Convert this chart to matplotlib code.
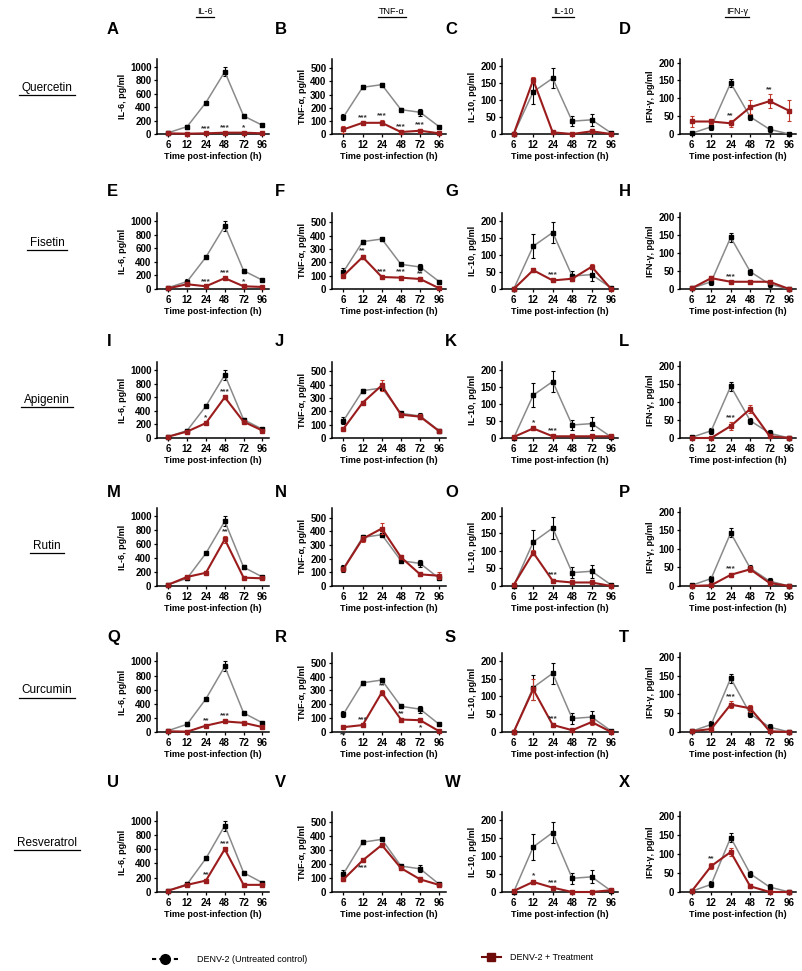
import matplotlib
matplotlib.use("Agg")
import matplotlib.pyplot as plt
from matplotlib.lines import Line2D

plt.rcParams['font.family'] = ['Liberation Sans', 'DejaVu Sans']

W, H = 803, 971

# ---- data -------------------------------------------------------------
times = ['6', '12', '24', '48', '72', '96']
cytokines = ['IL-6', 'TNF-α', 'IL-10', 'IFN-γ']
treatments = ['Quercetin', 'Fisetin', 'Apigenin', 'Rutin', 'Curcumin', 'Resveratrol']
letters = 'ABCDEFGHIJKLMNOPQRSTUVWX'

# untreated control (same in every row)
ctrl_il6 = [20, 110, 470, 930, 270, 130]
ctrl_il6_err = [10, 30, 15, 70, 30, 15]
ctrl_tnf = [130, 355, 375, 185, 165, 55]
ctrl_tnf_err = [25, 15, 10, 10, 25, 5]
ctrl_il10 = [0, 125, 165, 38, 42, 3]
ctrl_il10_err = [0, 35, 30, 15, 18, 2]
ctrl_ifn = [2, 20, 143, 48, 13, 0]
ctrl_ifn_err = [2, 8, 12, 8, 8, 0]

# treated, rows: Quercetin, Fisetin, Apigenin, Rutin, Curcumin, Resveratrol
il6 = [[10, 5, 10, 20, 20, 10],
       [10, 70, 40, 160, 40, 30],
       [20, 95, 220, 600, 240, 110],
       [20, 130, 190, 670, 120, 110],
       [10, 5, 90, 150, 130, 70],
       [20, 100, 160, 600, 100, 100]]
il6_err = [[5, 5, 5, 10, 10, 5],
           [5, 10, 10, 20, 10, 5],
           [5, 10, 20, 20, 20, 10],
           [5, 15, 20, 50, 10, 10],
           [5, 5, 10, 15, 10, 10],
           [5, 10, 15, 20, 10, 10]]
il6_stars = [['', '', '***', '***', '*', ''],
             ['', '', '***', '***', '*', ''],
             ['', '', '*', '***', '', ''],
             ['', '', '', '**', '', ''],
             ['', '', '**', '***', '', ''],
             ['', '', '**', '***', '', '']]

tnf = [[35, 85, 85, 15, 25, 5],
       [100, 240, 90, 85, 75, 5],
       [70, 265, 395, 175, 160, 50],
       [125, 345, 420, 210, 85, 75],
       [35, 50, 285, 90, 85, 5],
       [90, 225, 335, 170, 90, 50]]
tnf_err = [[25, 10, 20, 8, 15, 3],
           [15, 15, 10, 10, 10, 3],
           [10, 10, 40, 15, 20, 5],
           [15, 20, 40, 15, 10, 25],
           [10, 8, 20, 10, 10, 3],
           [10, 10, 10, 10, 20, 5]]
tnf_stars = [['', '***', '***', '***', '***', ''],
             ['', '**', '***', '***', '**', ''],
             ['', '', '', '', '', ''],
             ['', '', '', '', '', ''],
             ['**', '***', '**', '**', '*', ''],
             ['', '***', '', '', '', '']]
tnf_below = [[False] * 6, [False] * 6, [False] * 6, [False] * 6,
             [True, False, False, False, True, False],
             [False, True, False, False, False, False]]

il10 = [[0, 160, 5, 0, 8, 0],
        [0, 55, 25, 30, 65, 0],
        [3, 28, 5, 5, 5, 5],
        [3, 95, 15, 10, 10, 0],
        [0, 120, 20, 5, 28, 0],
        [3, 28, 12, 0, 0, 5]]
il10_err = [[0, 8, 3, 0, 5, 0],
            [0, 5, 5, 5, 8, 0],
            [2, 5, 3, 2, 2, 5],
            [2, 8, 5, 5, 5, 0],
            [0, 30, 5, 3, 8, 0],
            [2, 5, 3, 0, 0, 5]]
il10_stars = [['', '', '', '', '', ''],
              ['', '', '***', '', '', ''],
              ['', '*', '***', '', '', ''],
              ['', '', '***', '', '', ''],
              ['', '', '***', '', '', ''],
              ['', '*', '***', '', '', '']]

ifn = [[35, 35, 30, 75, 92, 65],
       [2, 30, 20, 20, 20, 0],
       [0, 0, 33, 80, 5, 0],
       [0, 2, 30, 45, 8, 0],
       [2, 8, 73, 63, 2, 0],
       [2, 68, 105, 15, 0, 0]]
ifn_err = [[15, 8, 10, 20, 20, 30],
           [2, 5, 3, 3, 3, 0],
           [0, 0, 10, 12, 3, 0],
           [0, 2, 6, 8, 5, 0],
           [2, 5, 10, 10, 2, 0],
           [2, 8, 10, 5, 0, 0]]
ifn_stars = [['', '', '**', '', '**', ''],
             ['', '', '***', '', '', ''],
             ['', '', '***', '', '', ''],
             ['', '', '***', '', '', ''],
             ['', '', '***', '', '', ''],
             ['', '**', '', '', '', '']]

ctrl = [(ctrl_il6, ctrl_il6_err), (ctrl_tnf, ctrl_tnf_err),
        (ctrl_il10, ctrl_il10_err), (ctrl_ifn, ctrl_ifn_err)]
treat = [(il6, il6_err, il6_stars), (tnf, tnf_err, tnf_stars),
         (il10, il10_err, il10_stars), (ifn, ifn_err, ifn_stars)]

ylims = [1120, 570, 222, 210]
yticks = [range(0, 1001, 200), range(0, 501, 100), range(0, 201, 50), range(0, 201, 50)]
ylabels = ['IL-6, pg/ml', 'TNF-α, pg/ml', 'IL-10, pg/ml', 'IFN-γ, pg/ml']

# ---- layout (pixels) --------------------------------------------------
col_left = [157, 332, 502, 680]
col_width = [112, 114, 116, 116]
row_box = [(59, 134), (213, 289), (362, 438), (508, 586), (653, 732), (812, 892)]
letter_x = [107, 275, 445, 619]
letter_y = [29, 192, 342, 492, 637, 782]
label_y = [88, 243, 400, 546, 690, 843]
header_x = [205, 392, 563, 737]

GRAY = '#8a8a8a'
RED = '#9b1c1c'
RED_MK = '#c0392b'

fig = plt.figure(figsize=(W / 100, H / 100), dpi=100)
renderer = fig.canvas.get_renderer()


def fx(px):
    return px / W


def fy(py):
    return 1 - py / H


def underline(t, pad=2):
    bb = t.get_window_extent(renderer)
    y = bb.y0 - 1.5
    fig.add_artist(Line2D([(bb.x0 - pad) / W, (bb.x1 + pad) / W], [y / H, y / H],
                          color='black', lw=0.9, transform=fig.transFigure))


xs = list(range(len(times)))

for r in range(6):
    top, bot = row_box[r]
    for c in range(4):
        ax = fig.add_axes([fx(col_left[c]), fy(bot), fx(col_width[c]), (bot - top) / H])
        cv, ce = ctrl[c]
        tv_all, te_all, st_all = treat[c]
        tv, te, st = tv_all[r], te_all[r], st_all[r]

        ax.errorbar(xs, cv, yerr=ce, color=GRAY, lw=1.1, ecolor='black', elinewidth=0.8,
                    capsize=1.5, capthick=0.8, marker='s', ms=2.5, mfc='black', mec='black',
                    clip_on=False, zorder=3)
        ax.errorbar(xs, tv, yerr=te, color=RED, lw=1.5, ecolor=RED_MK, elinewidth=0.8,
                    capsize=1.5, capthick=0.8, marker='s', ms=2.5, mfc=RED, mec=RED,
                    clip_on=False, zorder=4)

        for i, s in enumerate(st):
            if not s:
                continue
            below = c == 1 and tnf_below[r][i]
            if below:
                yy = tv[i] - te[i] - 0.03 * ylims[c]
                va = 'top'
            else:
                yy = tv[i] + te[i] + 0.01 * ylims[c]
                va = 'bottom'
            ax.text(xs[i], yy, s, ha='center', va=va, fontsize=6, fontweight='bold',
                    color='#333333', zorder=5)

        ax.set_xlim(-0.6, 5.35)
        ax.set_ylim(0, ylims[c])
        ax.set_xticks(xs)
        ax.set_xticklabels(times)
        ax.set_yticks(list(yticks[c]))
        for sp in ['top', 'right']:
            ax.spines[sp].set_visible(False)
        for sp in ['left', 'bottom']:
            ax.spines[sp].set_linewidth(1.1)
        ax.tick_params(axis='both', length=2.5, width=0.9, labelsize=7, pad=1.5)
        for lab in ax.get_xticklabels() + ax.get_yticklabels():
            lab.set_fontweight('bold')
        ax.set_xlabel('Time post-infection (h)', fontsize=6.5, fontweight='bold', labelpad=2)
        ax.set_ylabel(ylabels[c], fontsize=6.5, fontweight='bold', labelpad=2)

        fig.text(fx(letter_x[c]), fy(letter_y[r]), letters[r * 4 + c], fontsize=12,
                 fontweight='bold', ha='left', va='center')

    t = fig.text(fx(47), fy(label_y[r]), treatments[r], fontsize=8.5, ha='center', va='center')
    fig.canvas.draw()
    underline(t, pad=3)

for c in range(4):
    t = fig.text(fx(header_x[c]), fy(11), cytokines[c], fontsize=6.5, ha='center', va='center')
    fig.canvas.draw()
    underline(t, pad=1)

# ---- legend ----------------------------------------------------------
fig.add_artist(Line2D([fx(152), fx(178)], [fy(959), fy(959)], color='black', lw=1.5,
                      ls=(0, (2, 1.5)), transform=fig.transFigure))
fig.add_artist(Line2D([fx(165)], [fy(959)], marker='o', ms=7, color='black',
                      transform=fig.transFigure))
fig.text(fx(197), fy(959), 'DENV-2 (Untreated control)', fontsize=6.5, ha='left', va='center')

fig.add_artist(Line2D([fx(482), fx(501)], [fy(957), fy(957)], color='#6e0b0b', lw=1.5,
                      transform=fig.transFigure))
fig.add_artist(Line2D([fx(491)], [fy(957)], marker='s', ms=6, color='#6e0b0b',
                      transform=fig.transFigure))
fig.text(fx(510), fy(957), 'DENV-2 + Treatment', fontsize=6.5, ha='left', va='center')

fig.savefig('out.png', dpi=100)
